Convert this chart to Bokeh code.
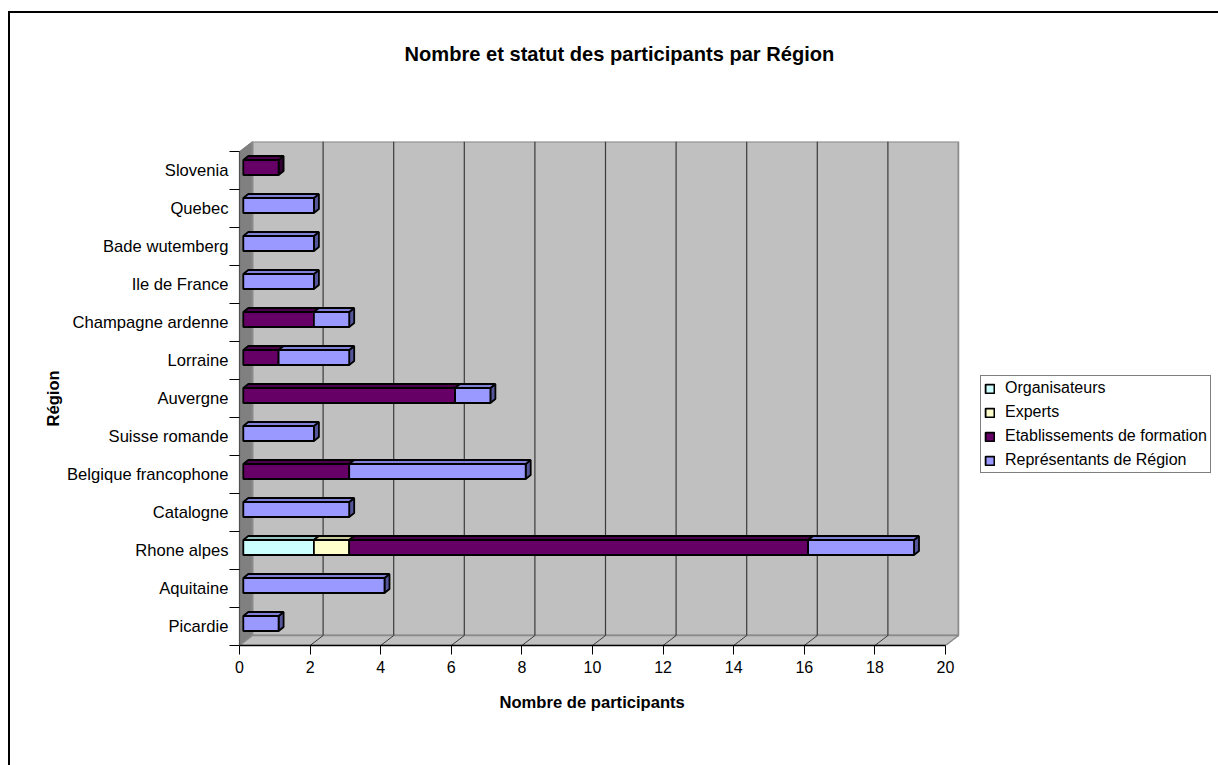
from bokeh.plotting import figure
from bokeh.embed import file_html
from bokeh.resources import INLINE
from bokeh.models import (Range1d, FixedTicker, LinearAxis, Legend, LegendItem,
                          Title, ColumnDataSource)

categories = ["Picardie", "Aquitaine", "Rhone alpes", "Catalogne", "Belgique francophone",
              "Suisse romande", "Auvergne", "Lorraine", "Champagne ardenne", "Ile de France",
              "Bade wutemberg", "Quebec", "Slovenia"]
organisateurs = [0, 0, 2, 0, 0, 0, 0, 0, 0, 0, 0, 0, 0]
experts = [0, 0, 1, 0, 0, 0, 0, 0, 0, 0, 0, 0, 0]
etablissements = [0, 0, 13, 0, 3, 0, 6, 1, 2, 0, 0, 0, 1]
representants = [1, 4, 3, 3, 5, 2, 1, 2, 1, 2, 2, 2, 0]
x_ticks = list(range(0, 21, 2))

series = [
    ("Organisateurs", organisateurs, "#CCFFFF", "#99C4C4", "#668888"),
    ("Experts", experts, "#FFFFCC", "#C8C89A", "#888866"),
    ("Etablissements de formation", etablissements, "#660066", "#4C004C", "#330033"),
    ("Représentants de Région", representants, "#9999FF", "#8080D8", "#555599"),
]

FONT = "Liberation Sans"
W, H = 1218, 765
PX, PY = 35.3, 38.0          # pixels per data unit
LEFT, TOP, BOTTOM = 239, 141, H - 645
FRAME_W = 959 - 239
FRAME_H = 645 - 141
xmax, ymax = FRAME_W / PX, FRAME_H / PY
DW, DH = 13 / PX, 10 / PY    # wall depth
BX, BY = 3.8 / PX, 3 / PY    # bar front offset
BW, BH = 5 / PX, 4 / PY      # bar depth
BAR = 15 / PY                # bar thickness
n = len(categories)

p = figure(width=W, height=H, output_backend="svg", toolbar_location=None,
           x_range=Range1d(0, xmax), y_range=Range1d(0, ymax),
           x_axis_type=None, y_axis_type=None,
           min_border_left=LEFT, min_border_right=W - LEFT - FRAME_W,
           min_border_top=TOP, min_border_bottom=BOTTOM,
           background_fill_color="white", border_fill_color="white")
p.frame_width = FRAME_W
p.frame_height = FRAME_H
p.grid.visible = False
p.outline_line_color = None

# outer border: runs off the right and bottom of the page
p.stylesheets = [":host::after {content:''; position:absolute; left:8px; top:11px; right:0; bottom:0;"
                 " box-sizing:border-box; border-left:2px solid #000; border-top:2px solid #000;"
                 " pointer-events:none; z-index:5;}"]

# walls and floor
p.patch([0, DW, DW, 0], [n, n + DH, DH, 0], fill_color="#808080", line_color="#808080")
p.patch([DW, 20 + DW, 20 + DW, DW], [DH, DH, n + DH, n + DH], fill_color="#C0C0C0",
        line_color="#8A8A8A", line_width=2)
p.patch([0, 20, 20 + DW, DW], [0, 0, DH, DH], fill_color="#C0C0C0",
        line_color="#8A8A8A", line_width=1.5)

# gridlines on the back wall and across the floor
inner = x_ticks[1:-1]
p.segment([v + DW for v in inner], [DH] * len(inner), [v + DW for v in inner], [n + DH] * len(inner),
          line_color="#3A3A3A", line_width=1.2)
p.segment(inner, [0] * len(inner), [v + DW for v in inner], [DH] * len(inner),
          line_color="#3A3A3A", line_width=1)

# stacked 3D bars
legend_items = []
left_edge = [0.0] * n
for name, vals, col, top_col, side_col in series:
    idx = [i for i, v in enumerate(vals) if v > 0]
    x0 = [left_edge[i] + BX for i in idx]
    x1 = [left_edge[i] + vals[i] + BX for i in idx]
    y0 = [i + 0.5 + BY - BAR / 2 for i in idx]
    y1 = [i + 0.5 + BY + BAR / 2 for i in idx]
    p.patches([[b, b + BW, b + BW, b] for b in x1],
              [[c, c + BH, d + BH, d] for c, d in zip(y0, y1)],
              fill_color=side_col, line_color="black", line_width=1.8)
    p.patches([[a, a + BW, b + BW, b] for a, b in zip(x0, x1)],
              [[d, d + BH, d + BH, d] for d in y1],
              fill_color=top_col, line_color="black", line_width=1.8)
    src = ColumnDataSource(dict(left=x0, right=x1, bottom=y0, top=y1))
    r = p.quad(left="left", right="right", bottom="bottom", top="top", source=src,
               fill_color=col, line_color="black", line_width=1.8)
    legend_items.append(LegendItem(label=name, renderers=[r]))
    for i in idx:
        left_edge[i] += vals[i]

# axes
xaxis = LinearAxis(ticker=FixedTicker(ticks=x_ticks), bounds=(0, 20),
                   major_label_text_font=FONT, major_label_text_font_size="16px",
                   major_label_text_color="black", major_label_standoff=6,
                   major_tick_in=0, major_tick_out=9, major_tick_line_color="black",
                   minor_tick_line_color=None, axis_line_color="black", axis_line_width=1.5)
p.add_layout(xaxis, "below")

yaxis = LinearAxis(ticker=FixedTicker(ticks=[i + 0.5 for i in range(n)], minor_ticks=list(range(n + 1))),
                   bounds=(0, n),
                   major_label_overrides={i + 0.5: c for i, c in enumerate(categories)},
                   major_label_text_font=FONT, major_label_text_font_size="16.6px",
                   major_label_text_color="black", major_label_standoff=1,
                   major_tick_line_color=None, major_tick_in=0, major_tick_out=0,
                   minor_tick_in=0, minor_tick_out=10, minor_tick_line_color="black",
                   axis_line_color="#505050", axis_line_width=1.2)
p.add_layout(yaxis, "left")

# axis titles, placed as panels so they can sit off-centre like the original
p.add_layout(Title(text="Nombre de participants", align="left", offset=499 - 239, standoff=31,
                   text_font=FONT, text_font_size="16.6px", text_font_style="bold",
                   text_color="black"), "below")
p.add_layout(Title(text="Région", align="left", offset=645 - 426, standoff=4,
                   text_font=FONT, text_font_size="16.6px", text_font_style="bold",
                   text_color="black"), "left")

# legend, in the panel to the right of the frame
legend = Legend(items=legend_items, location=(21, 645 - 473), orientation="vertical",
                border_line_color="black", border_line_width=1, background_fill_color="white",
                background_fill_alpha=1, margin=0, padding=3, spacing=6, glyph_width=11,
                glyph_height=11, label_height=15, label_standoff=10, label_text_font=FONT,
                label_text_font_size="16px", label_text_color="black")
p.add_layout(legend, "right")

# blank spacer panel between the frame and the chart title, lifting the title
p.add_layout(Title(text=" ", align="left", standoff=23, text_font=FONT,
                   text_font_size="14px"), "above")
# chart title
p.add_layout(Title(text="Nombre et statut des participants par Région", align="left",
                   offset=404 - 239, standoff=72, text_font=FONT,
                   text_font_size="20.1px", text_font_style="bold", text_color="black"), "above")

open("out.html", "w").write(file_html(p, INLINE))
